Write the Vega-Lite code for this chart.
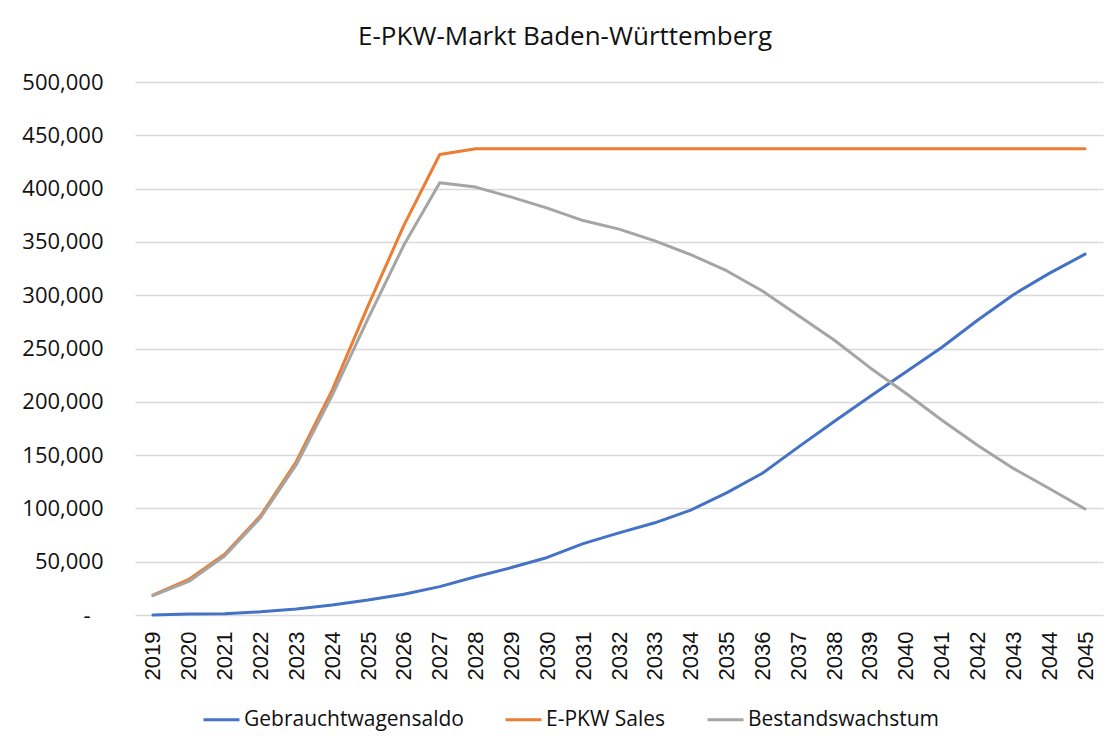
{
  "$schema": "https://vega.github.io/schema/vega-lite/v6.json",
  "autosize": {"type": "none"},
  "width": 968,
  "height": 533,
  "padding": {"left": 135, "top": 82, "right": 9, "bottom": 123},
  "background": "white",
  "title": {
    "text": "E-PKW-Markt Baden-Württemberg",
    "font": "Open Sans",
    "fontSize": 26,
    "fontWeight": "normal",
    "color": "#111",
    "anchor": "middle",
    "dx": -54,
    "offset": 21
  },
  "data": {
    "values": [
      {"year": "2019", "series": "Gebrauchtwagensaldo", "value": 0},
      {"year": "2020", "series": "Gebrauchtwagensaldo", "value": 1000},
      {"year": "2021", "series": "Gebrauchtwagensaldo", "value": 1200},
      {"year": "2022", "series": "Gebrauchtwagensaldo", "value": 3000},
      {"year": "2023", "series": "Gebrauchtwagensaldo", "value": 5600},
      {"year": "2024", "series": "Gebrauchtwagensaldo", "value": 9400},
      {"year": "2025", "series": "Gebrauchtwagensaldo", "value": 14000},
      {"year": "2026", "series": "Gebrauchtwagensaldo", "value": 19500},
      {"year": "2027", "series": "Gebrauchtwagensaldo", "value": 26600},
      {"year": "2028", "series": "Gebrauchtwagensaldo", "value": 35900},
      {"year": "2029", "series": "Gebrauchtwagensaldo", "value": 44500},
      {"year": "2030", "series": "Gebrauchtwagensaldo", "value": 54000},
      {"year": "2031", "series": "Gebrauchtwagensaldo", "value": 67000},
      {"year": "2032", "series": "Gebrauchtwagensaldo", "value": 77000},
      {"year": "2033", "series": "Gebrauchtwagensaldo", "value": 86500},
      {"year": "2034", "series": "Gebrauchtwagensaldo", "value": 98400},
      {"year": "2035", "series": "Gebrauchtwagensaldo", "value": 114600},
      {"year": "2036", "series": "Gebrauchtwagensaldo", "value": 133000},
      {"year": "2037", "series": "Gebrauchtwagensaldo", "value": 157500},
      {"year": "2038", "series": "Gebrauchtwagensaldo", "value": 181500},
      {"year": "2039", "series": "Gebrauchtwagensaldo", "value": 205000},
      {"year": "2040", "series": "Gebrauchtwagensaldo", "value": 228000},
      {"year": "2041", "series": "Gebrauchtwagensaldo", "value": 251000},
      {"year": "2042", "series": "Gebrauchtwagensaldo", "value": 276500},
      {"year": "2043", "series": "Gebrauchtwagensaldo", "value": 300500},
      {"year": "2044", "series": "Gebrauchtwagensaldo", "value": 320500},
      {"year": "2045", "series": "Gebrauchtwagensaldo", "value": 338500},
      {"year": "2019", "series": "E-PKW Sales", "value": 18700},
      {"year": "2020", "series": "E-PKW Sales", "value": 33400},
      {"year": "2021", "series": "E-PKW Sales", "value": 56900},
      {"year": "2022", "series": "E-PKW Sales", "value": 93000},
      {"year": "2023", "series": "E-PKW Sales", "value": 144000},
      {"year": "2024", "series": "E-PKW Sales", "value": 211000},
      {"year": "2025", "series": "E-PKW Sales", "value": 290000},
      {"year": "2026", "series": "E-PKW Sales", "value": 365500},
      {"year": "2027", "series": "E-PKW Sales", "value": 432000},
      {"year": "2028", "series": "E-PKW Sales", "value": 437400},
      {"year": "2029", "series": "E-PKW Sales", "value": 437400},
      {"year": "2030", "series": "E-PKW Sales", "value": 437400},
      {"year": "2031", "series": "E-PKW Sales", "value": 437400},
      {"year": "2032", "series": "E-PKW Sales", "value": 437400},
      {"year": "2033", "series": "E-PKW Sales", "value": 437400},
      {"year": "2034", "series": "E-PKW Sales", "value": 437400},
      {"year": "2035", "series": "E-PKW Sales", "value": 437400},
      {"year": "2036", "series": "E-PKW Sales", "value": 437400},
      {"year": "2037", "series": "E-PKW Sales", "value": 437400},
      {"year": "2038", "series": "E-PKW Sales", "value": 437400},
      {"year": "2039", "series": "E-PKW Sales", "value": 437400},
      {"year": "2040", "series": "E-PKW Sales", "value": 437400},
      {"year": "2041", "series": "E-PKW Sales", "value": 437400},
      {"year": "2042", "series": "E-PKW Sales", "value": 437400},
      {"year": "2043", "series": "E-PKW Sales", "value": 437400},
      {"year": "2044", "series": "E-PKW Sales", "value": 437400},
      {"year": "2045", "series": "E-PKW Sales", "value": 437400},
      {"year": "2019", "series": "Bestandswachstum", "value": 18200},
      {"year": "2020", "series": "Bestandswachstum", "value": 31500},
      {"year": "2021", "series": "Bestandswachstum", "value": 55300},
      {"year": "2022", "series": "Bestandswachstum", "value": 91200},
      {"year": "2023", "series": "Bestandswachstum", "value": 141000},
      {"year": "2024", "series": "Bestandswachstum", "value": 206000},
      {"year": "2025", "series": "Bestandswachstum", "value": 278000},
      {"year": "2026", "series": "Bestandswachstum", "value": 347000},
      {"year": "2027", "series": "Bestandswachstum", "value": 405500},
      {"year": "2028", "series": "Bestandswachstum", "value": 401400},
      {"year": "2029", "series": "Bestandswachstum", "value": 392000},
      {"year": "2030", "series": "Bestandswachstum", "value": 381700},
      {"year": "2031", "series": "Bestandswachstum", "value": 370000},
      {"year": "2032", "series": "Bestandswachstum", "value": 362000},
      {"year": "2033", "series": "Bestandswachstum", "value": 351000},
      {"year": "2034", "series": "Bestandswachstum", "value": 338000},
      {"year": "2035", "series": "Bestandswachstum", "value": 323000},
      {"year": "2036", "series": "Bestandswachstum", "value": 304000},
      {"year": "2037", "series": "Bestandswachstum", "value": 281000},
      {"year": "2038", "series": "Bestandswachstum", "value": 258000},
      {"year": "2039", "series": "Bestandswachstum", "value": 232000},
      {"year": "2040", "series": "Bestandswachstum", "value": 208000},
      {"year": "2041", "series": "Bestandswachstum", "value": 183000},
      {"year": "2042", "series": "Bestandswachstum", "value": 159300},
      {"year": "2043", "series": "Bestandswachstum", "value": 137500},
      {"year": "2044", "series": "Bestandswachstum", "value": 118700},
      {"year": "2045", "series": "Bestandswachstum", "value": 99500}
    ]
  },
  "mark": {"type": "line", "strokeWidth": 3, "strokeCap": "round", "strokeJoin": "round"},
  "encoding": {
    "x": {
      "field": "year",
      "type": "ordinal",
      "scale": {"padding": 0.5},
      "axis": {
        "title": null,
        "labelAngle": 270,
        "labelFont": "Liberation Sans",
        "labelFontSize": 22,
        "labelColor": "#111",
        "labelPadding": 16,
        "ticks": false,
        "domain": false,
        "grid": false
      }
    },
    "y": {
      "field": "value",
      "type": "quantitative",
      "scale": {"domain": [0, 500000], "nice": false},
      "axis": {
        "title": null,
        "values": [0, 50000, 100000, 150000, 200000, 250000, 300000, 350000, 400000, 450000, 500000],
        "labelExpr": "datum.value == 0 ? '-' : format(datum.value, ',')",
        "labelFont": "Open Sans",
        "labelFontSize": 22,
        "labelColor": "#111",
        "labelPadding": {"condition": {"test": "datum.value == 0", "value": 45}, "value": 32},
        "ticks": false,
        "domain": false,
        "grid": true,
        "gridColor": "#D9D9D9",
        "gridWidth": 1.5
      }
    },
    "color": {
      "field": "series",
      "type": "nominal",
      "scale": {
        "domain": ["Gebrauchtwagensaldo", "E-PKW Sales", "Bestandswachstum"],
        "range": ["#4472C4", "#ED7D31", "#A5A5A5"]
      },
      "legend": {
        "title": null,
        "orient": "none",
        "direction": "horizontal",
        "legendX": 67,
        "legendY": 618,
        "symbolType": "stroke",
        "symbolSize": 1296,
        "symbolStrokeWidth": 3,
        "labelFont": "Open Sans",
        "labelFontSize": 21,
        "labelColor": "#111",
        "labelOffset": 3,
        "columnPadding": 35,
        "labelLimit": 400
      }
    }
  },
  "config": {
    "view": {"stroke": null}
  }
}
